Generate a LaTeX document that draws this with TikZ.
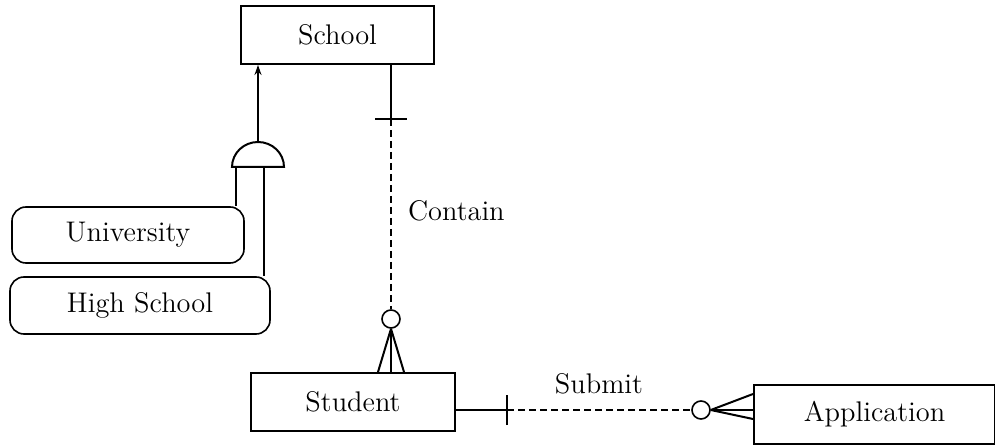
\documentclass[tikz,border=0pt]{standalone}
\usepackage{tikz}
\usetikzlibrary{arrows.meta,calc,positioning}

\begin{document}
\begin{tikzpicture}[x=0.5pt,y=-0.5pt,
    font=\fontsize{14.2}{16}\selectfont,
    entity/.style={draw,line width=1pt,inner sep=0pt},
    subtype/.style={draw,line width=0.8pt,rounded corners=7pt,inner sep=0pt},
    ring/.style={draw,circle,line width=0.8pt,fill=white,inner sep=0pt,minimum size=9pt},
    link/.style={line width=1pt},
    weak/.style={line width=0.9pt,dash pattern=on 3.5pt off 2pt}]

    \useasboundingbox (0,0) rectangle (995,448);

	% entities
	\node[entity,minimum width=96.5pt,minimum height=29pt] (school) at (337.5,35) {School};
	\node[entity,minimum width=102pt,minimum height=29pt] (student) at (353,402) {Student};
	\node[entity,minimum width=120.5pt,minimum height=29.5pt] (app) at (874.5,414.5) {Application};

	% subtypes
	\node[subtype,minimum width=116pt,minimum height=28pt] (univ) at (128,235) {University};
	\node[subtype,minimum width=130pt,minimum height=28.5pt] (hschool) at (140,305.5) {High School};

	% generalization
	\coordinate (gen) at (258,167);
	\draw[link,fill=white] ([xshift=-13pt]gen) arc[start angle=180,end angle=0,x radius=13pt,y radius=12.5pt] -- cycle;
	\draw[link,-{Stealth[length=5pt,width=3.5pt]}] ([yshift=12.5pt]gen) -- (school.south -| gen);
	\draw[link] ([xshift=-11pt]gen) -- ([xshift=-11pt]gen |- univ.north);
	\draw[line width=0.7pt] ([xshift=3pt]gen) -- ([xshift=3pt]gen |- hschool.north);

	% contain
	\coordinate (ct) at (391,119);
	\node[ring] (c1) at (391,319) {};
	\coordinate (cf) at (student.north -| c1);
	\draw[link] (school.south -| ct) -- (ct);
	\draw[link] ([xshift=-8pt]ct) -- ([xshift=8pt]ct);
	\draw[weak] (ct) -- (c1);
	\draw[link] (c1.south) -- ([xshift=-6.5pt]cf);
	\draw[link] (c1.south) -- (cf);
	\draw[link] (c1.south) -- ([xshift=6.5pt]cf);
	\node[anchor=west] (contain) at (401,211) {Contain};

	% submit
	\coordinate (sb) at (507,410);
	\node[ring] (c2) at (701,410) {};
	\coordinate (af) at (app.west |- c2);
	\draw[link] (student.east |- sb) -- (sb);
	\draw[link] ([yshift=-7.5pt]sb) -- ([yshift=7.5pt]sb);
	\draw[weak] (sb) -- (c2);
	\draw[link] (c2.east) -- ([yshift=-4.5pt]af);
	\draw[link] (c2.east) -- (af);
	\draw[link] (c2.east) -- ([yshift=8pt]af);
	\node (submit) at (599,384) {Submit};

\end{tikzpicture}
\end{document}
